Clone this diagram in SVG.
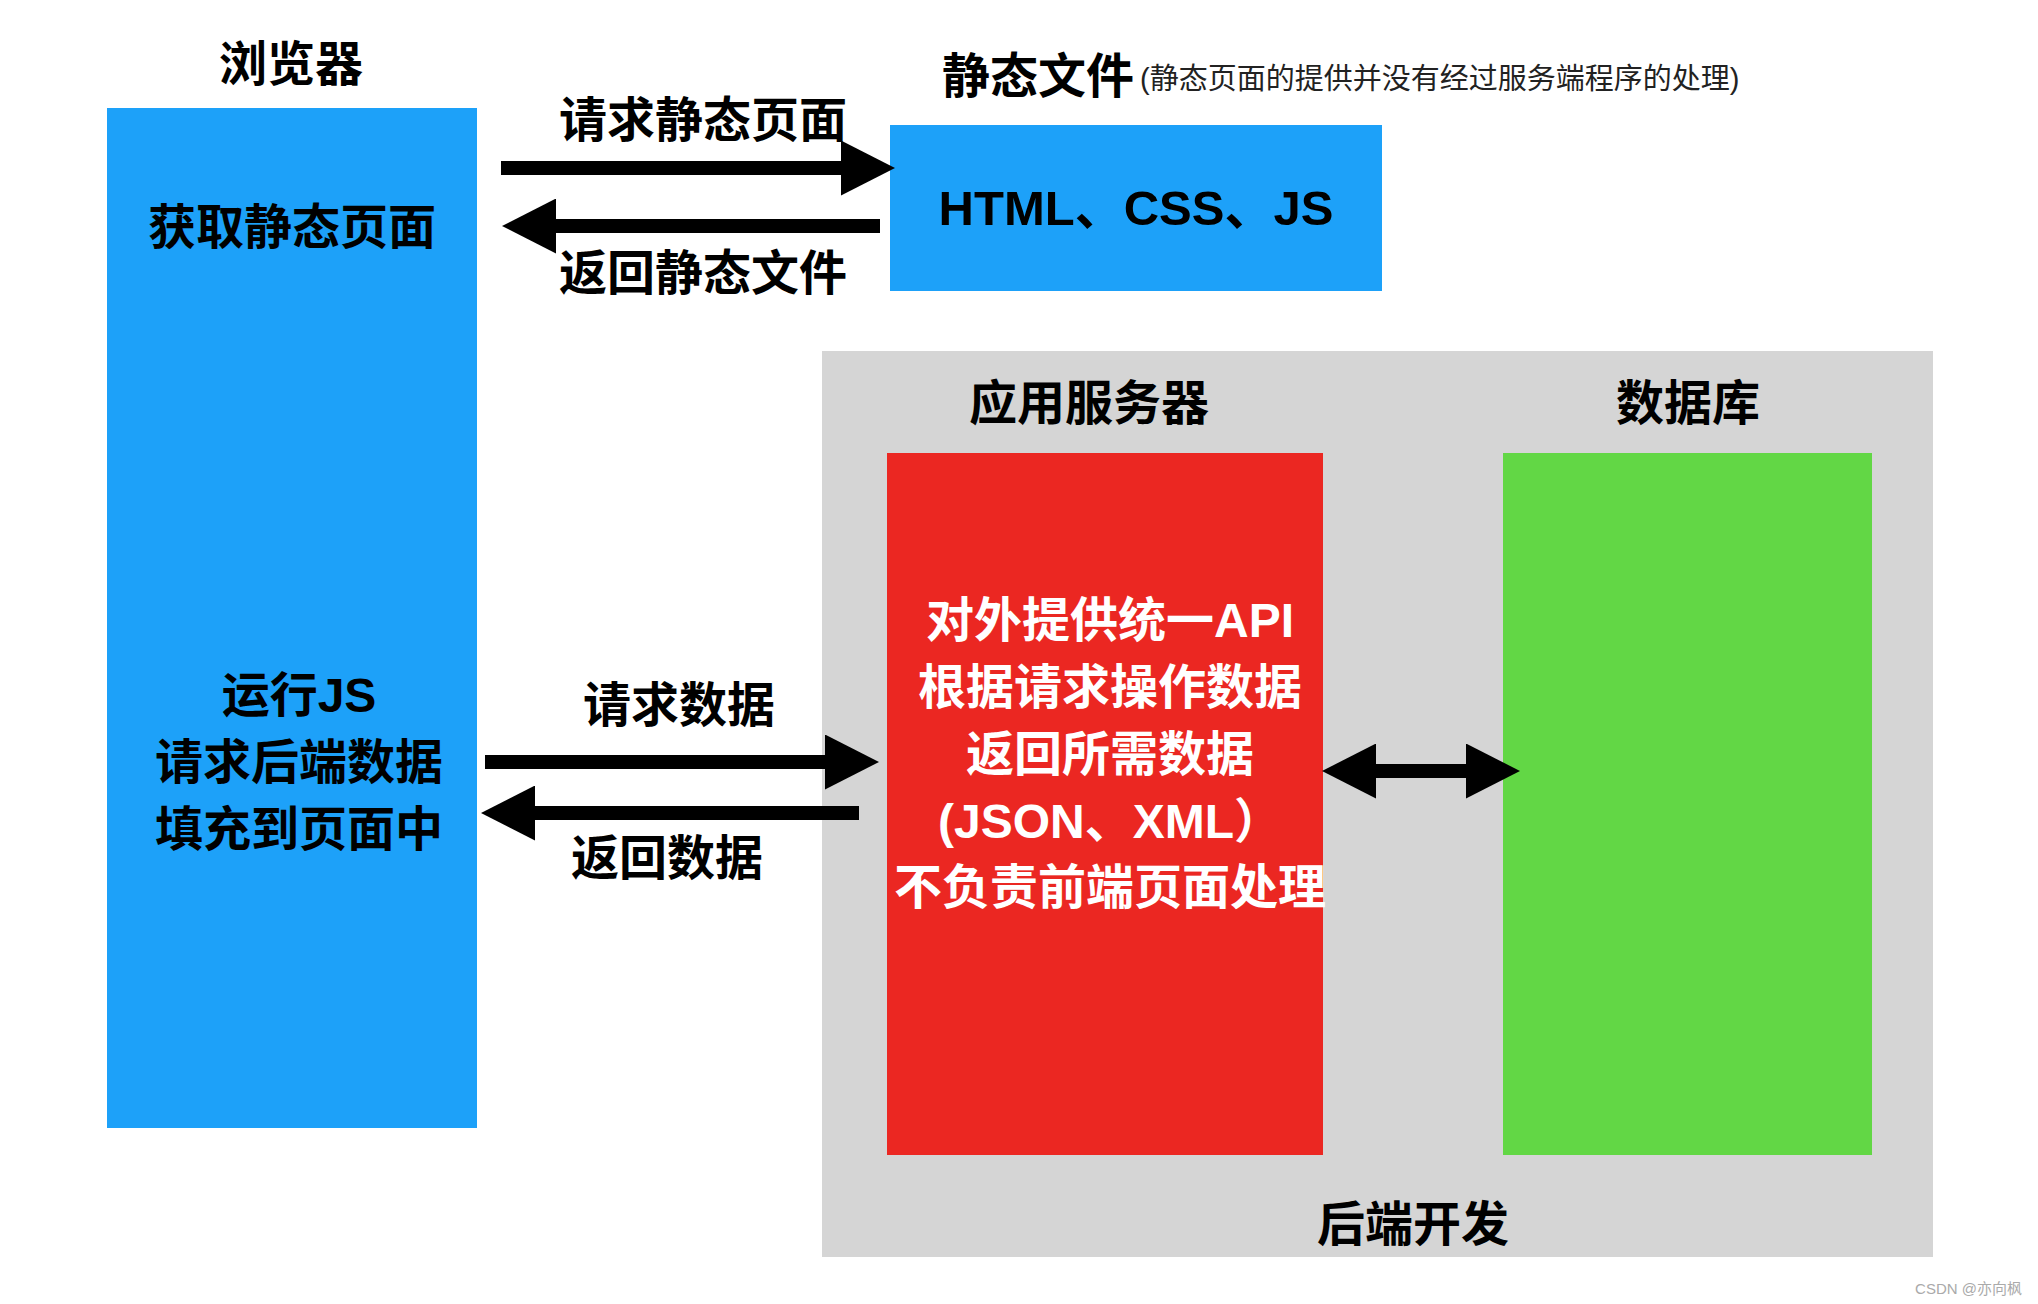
<svg xmlns="http://www.w3.org/2000/svg" width="2038" height="1304" viewBox="0 0 2038 1304">
<style>
.t{font-family:"Liberation Sans","Noto Sans CJK SC",sans-serif;font-weight:bold;font-size:48px;text-anchor:middle;fill:#000}
.w{fill:#fff}
.s{font-family:"Liberation Sans","Noto Sans CJK SC",sans-serif;font-size:29px;fill:#222}
.a{stroke:#000;stroke-width:14;fill:none}
</style>
<defs>
<marker id="ah" markerUnits="userSpaceOnUse" markerWidth="54" markerHeight="55" viewBox="0 0 54 55" refX="0" refY="27.5" orient="auto-start-reverse">
<path d="M0,0 L54,27.5 L0,55 Z" fill="#000"/>
</marker>
</defs>
<rect width="2038" height="1304" fill="#fff"/>
<g id="backend">
<rect x="822" y="351" width="1111" height="906" fill="#d5d5d5"/>
<text class="t" x="1413" y="1241">后端开发</text>
</g>
<g id="browser">
<text class="t" x="291" y="81">浏览器</text>
<rect x="107" y="108" width="370" height="1020" fill="#1da1f9"/>
<text class="t" x="292" y="244">获取静态页面</text>
<text class="t" x="299" y="712">运行JS</text>
<text class="t" x="299" y="779">请求后端数据</text>
<text class="t" x="299" y="846">填充到页面中</text>
</g>
<g id="static">
<text class="t" x="942" y="93" style="text-anchor:start">静态文件</text>
<text class="s" x="1140" y="89">(静态页面的提供并没有经过服务端程序的处理)</text>
<rect x="890" y="125" width="492" height="166" fill="#1da1f9"/>
<text class="t" x="1136" y="225" style="font-size:49px">HTML、CSS、JS</text>
</g>
<g id="appserver">
<text class="t" x="1089" y="420">应用服务器</text>
<rect x="887" y="453" width="436" height="702" fill="#eb2722"/>
<text class="t w" x="1110" y="637">对外提供统一API</text>
<text class="t w" x="1110" y="704">根据请求操作数据</text>
<text class="t w" x="1110" y="771">返回所需数据</text>
<text class="t w" x="1110" y="838">(JSON、XML）</text>
<text class="t w" x="1110" y="904">不负责前端页面处理</text>
</g>
<g id="database">
<text class="t" x="1688" y="420">数据库</text>
<rect x="1503" y="453" width="369" height="702" fill="#62d745"/>
</g>
<g id="connectors">
<line class="a" x1="501" y1="168" x2="841" y2="168" marker-end="url(#ah)"/>
<text class="t" x="703" y="137">请求静态页面</text>
<line class="a" x1="880" y1="226" x2="556" y2="226" marker-end="url(#ah)"/>
<text class="t" x="703" y="290">返回静态文件</text>
<line class="a" x1="485" y1="762" x2="825" y2="762" marker-end="url(#ah)"/>
<text class="t" x="679" y="722">请求数据</text>
<line class="a" x1="859" y1="813" x2="535" y2="813" marker-end="url(#ah)"/>
<text class="t" x="667" y="875">返回数据</text>
<line class="a" x1="1376" y1="771" x2="1466" y2="771" marker-start="url(#ah)" marker-end="url(#ah)"/>
</g>
<text x="2022" y="1294" style="font-family:'Liberation Sans','Noto Sans CJK SC',sans-serif;font-size:15px;fill:#aaa;text-anchor:end">CSDN @亦向枫</text>
</svg>
